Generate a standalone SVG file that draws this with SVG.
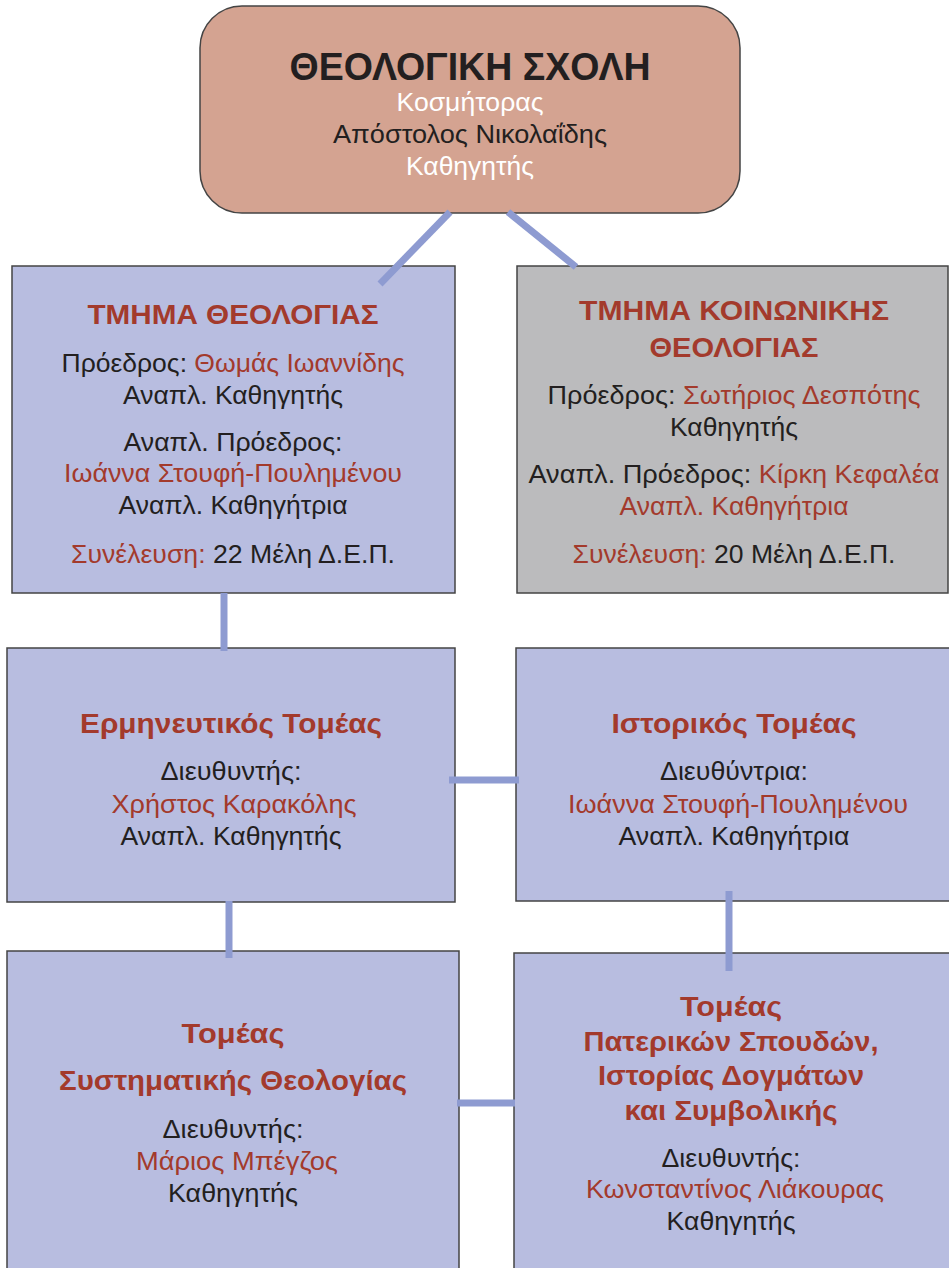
<svg xmlns="http://www.w3.org/2000/svg" width="949" height="1268" viewBox="0 0 949 1268">
<style>
text{font-family:"Liberation Sans",Arial,sans-serif;text-anchor:middle;fill:#231f20;font-size:25px}
.h{font-weight:bold;fill:#a33a2c;font-size:27px}
.r{fill:#a33a2c}
.w{fill:#ffffff}
.box{fill:#b8bde0;stroke:#444;stroke-width:1.5}
.gray{fill:#bbbbbd;stroke:#444;stroke-width:1.5}
.con{stroke:#8e9bd1;stroke-width:7;fill:none}
</style>
<rect x="0" y="0" width="949" height="1268" fill="#ffffff"/>
<g id="faculty">
<rect x="200" y="6" width="540" height="207" rx="42" fill="#d4a391" stroke="#444" stroke-width="1.5"/>
<text x="470" y="80" style="font-weight:bold;font-size:38px" textLength="361" lengthAdjust="spacingAndGlyphs">ΘΕΟΛΟΓΙΚΗ ΣΧΟΛΗ</text>
<text x="470" y="111" class="w" textLength="147" lengthAdjust="spacingAndGlyphs">Κοσμήτορας</text>
<text x="470" y="143" textLength="274" lengthAdjust="spacingAndGlyphs">Απόστολος Νικολαΐδης</text>
<text x="470" y="175" class="w" textLength="128" lengthAdjust="spacingAndGlyphs">Καθηγητής</text>
</g>
<g id="dept-theology">
<rect x="12" y="266" width="443" height="327" class="box"/>
<text x="233" y="324" class="h" textLength="291" lengthAdjust="spacingAndGlyphs">ΤΜΗΜΑ ΘΕΟΛΟΓΙΑΣ</text>
<text x="233" y="372" textLength="343" lengthAdjust="spacingAndGlyphs">Πρόεδρος: <tspan class="r">Θωμάς Ιωαννίδης</tspan></text>
<text x="233" y="404" textLength="220" lengthAdjust="spacingAndGlyphs">Αναπλ. Καθηγητής</text>
<text x="233" y="451" textLength="219" lengthAdjust="spacingAndGlyphs">Αναπλ. Πρόεδρος:</text>
<text x="233" y="482" class="r" textLength="338" lengthAdjust="spacingAndGlyphs">Ιωάννα Στουφή-Πουλημένου</text>
<text x="233" y="514" textLength="229" lengthAdjust="spacingAndGlyphs">Αναπλ. Καθηγήτρια</text>
<text x="233" y="563" textLength="324" lengthAdjust="spacingAndGlyphs"><tspan class="r">Συνέλευση:</tspan> 22 Μέλη Δ.Ε.Π.</text>
</g>
<g id="dept-social">
<rect x="517" y="266" width="431" height="327" class="gray"/>
<text x="734" y="320" class="h" textLength="310" lengthAdjust="spacingAndGlyphs">ΤΜΗΜΑ ΚΟΙΝΩΝΙΚΗΣ</text>
<text x="734" y="357" class="h" textLength="169" lengthAdjust="spacingAndGlyphs">ΘΕΟΛΟΓΙΑΣ</text>
<text x="734" y="404" textLength="373" lengthAdjust="spacingAndGlyphs">Πρόεδρος: <tspan class="r">Σωτήριος Δεσπότης</tspan></text>
<text x="734" y="436" textLength="128" lengthAdjust="spacingAndGlyphs">Καθηγητής</text>
<text x="734" y="483" textLength="411" lengthAdjust="spacingAndGlyphs">Αναπλ. Πρόεδρος: <tspan class="r">Κίρκη Κεφαλέα</tspan></text>
<text x="734" y="515" class="r" textLength="229" lengthAdjust="spacingAndGlyphs">Αναπλ. Καθηγήτρια</text>
<text x="734" y="563" textLength="323" lengthAdjust="spacingAndGlyphs"><tspan class="r">Συνέλευση:</tspan> 20 Μέλη Δ.Ε.Π.</text>
</g>
<g id="sector-hermeneutic">
<rect x="7" y="648" width="448" height="254" class="box"/>
<text x="231" y="733" class="h" textLength="302" lengthAdjust="spacingAndGlyphs">Ερμηνευτικός Τομέας</text>
<text x="231" y="780" textLength="141" lengthAdjust="spacingAndGlyphs">Διευθυντής:</text>
<text x="234" y="813" class="r" textLength="245" lengthAdjust="spacingAndGlyphs">Χρήστος Καρακόλης</text>
<text x="231" y="845" textLength="221" lengthAdjust="spacingAndGlyphs">Αναπλ. Καθηγητής</text>
</g>
<g id="sector-historical">
<rect x="516" y="648" width="440" height="253" class="box"/>
<text x="734" y="733" class="h" textLength="245" lengthAdjust="spacingAndGlyphs">Ιστορικός Τομέας</text>
<text x="734" y="780" textLength="148" lengthAdjust="spacingAndGlyphs">Διευθύντρια:</text>
<text x="738" y="813" class="r" textLength="340" lengthAdjust="spacingAndGlyphs">Ιωάννα Στουφή-Πουλημένου</text>
<text x="734" y="845" textLength="231" lengthAdjust="spacingAndGlyphs">Αναπλ. Καθηγήτρια</text>
</g>
<g id="sector-systematic">
<rect x="7" y="951" width="452" height="330" class="box"/>
<text x="233" y="1043" class="h" textLength="103" lengthAdjust="spacingAndGlyphs">Τομέας</text>
<text x="233" y="1090" class="h" textLength="348" lengthAdjust="spacingAndGlyphs">Συστηματικής Θεολογίας</text>
<text x="233" y="1138" textLength="141" lengthAdjust="spacingAndGlyphs">Διευθυντής:</text>
<text x="237" y="1170" class="r" textLength="202" lengthAdjust="spacingAndGlyphs">Μάριος Μπέγζος</text>
<text x="233" y="1202" textLength="130" lengthAdjust="spacingAndGlyphs">Καθηγητής</text>
</g>
<g id="sector-patristic">
<rect x="514" y="953" width="442" height="330" class="box"/>
<text x="731" y="1016" class="h" textLength="102" lengthAdjust="spacingAndGlyphs">Τομέας</text>
<text x="731" y="1051" class="h" textLength="295" lengthAdjust="spacingAndGlyphs">Πατερικών Σπουδών,</text>
<text x="731" y="1085" class="h" textLength="266" lengthAdjust="spacingAndGlyphs">Ιστορίας Δογμάτων</text>
<text x="731" y="1120" class="h" textLength="213" lengthAdjust="spacingAndGlyphs">και Συμβολικής</text>
<text x="731" y="1167" textLength="139" lengthAdjust="spacingAndGlyphs">Διευθυντής:</text>
<text x="735" y="1198" class="r" textLength="298" lengthAdjust="spacingAndGlyphs">Κωνσταντίνος Λιάκουρας</text>
<text x="731" y="1230" textLength="129" lengthAdjust="spacingAndGlyphs">Καθηγητής</text>
</g>
<g id="connectors">
<line x1="450" y1="212" x2="380" y2="284" class="con"/>
<line x1="508" y1="212" x2="576" y2="267" class="con"/>
<line x1="224" y1="593" x2="224" y2="651" class="con" stroke-width="6"/>
<line x1="449" y1="780" x2="519" y2="780" class="con"/>
<line x1="229" y1="901" x2="229" y2="958" class="con" stroke-width="6"/>
<line x1="729" y1="891" x2="729" y2="971" class="con" stroke-width="6"/>
<line x1="457" y1="1103" x2="515" y2="1103" class="con"/>
</g>
</svg>
